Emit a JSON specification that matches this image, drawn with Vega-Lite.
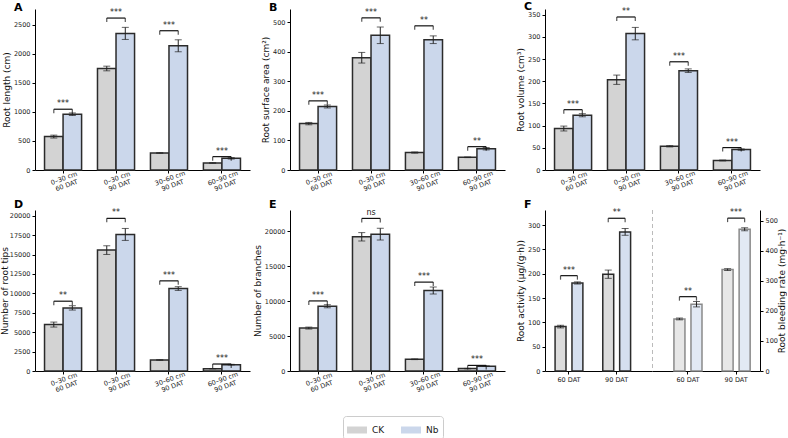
{
  "$schema": "https://vega.github.io/schema/vega-lite/v6.json",
  "background": "white",
  "padding": {"left": 0, "top": 0, "right": 0, "bottom": 0},
  "bounds": "flush",
  "columns": 3,
  "spacing": {"row": 40, "column": 40},
  "datasets": {
    "bars": [
      {"panel": "A", "cat": "0–30 cm|60 DAT", "group": "CK", "value": 575, "err": 25},
      {"panel": "A", "cat": "0–30 cm|60 DAT", "group": "Nb", "value": 960, "err": 22},
      {"panel": "A", "cat": "0–30 cm|90 DAT", "group": "CK", "value": 1747, "err": 40},
      {"panel": "A", "cat": "0–30 cm|90 DAT", "group": "Nb", "value": 2351, "err": 104},
      {"panel": "A", "cat": "30–60 cm|90 DAT", "group": "CK", "value": 293, "err": 5},
      {"panel": "A", "cat": "30–60 cm|90 DAT", "group": "Nb", "value": 2138, "err": 103},
      {"panel": "A", "cat": "60–90 cm|90 DAT", "group": "CK", "value": 121, "err": 5},
      {"panel": "A", "cat": "60–90 cm|90 DAT", "group": "Nb", "value": 201, "err": 12},
      {"panel": "B", "cat": "0–30 cm|60 DAT", "group": "CK", "value": 157, "err": 4},
      {"panel": "B", "cat": "0–30 cm|60 DAT", "group": "Nb", "value": 215, "err": 5},
      {"panel": "B", "cat": "0–30 cm|90 DAT", "group": "CK", "value": 380, "err": 18},
      {"panel": "B", "cat": "0–30 cm|90 DAT", "group": "Nb", "value": 456, "err": 28},
      {"panel": "B", "cat": "30–60 cm|90 DAT", "group": "CK", "value": 59, "err": 2},
      {"panel": "B", "cat": "30–60 cm|90 DAT", "group": "Nb", "value": 441, "err": 13},
      {"panel": "B", "cat": "60–90 cm|90 DAT", "group": "CK", "value": 43, "err": 1},
      {"panel": "B", "cat": "60–90 cm|90 DAT", "group": "Nb", "value": 72, "err": 4},
      {"panel": "C", "cat": "0–30 cm|60 DAT", "group": "CK", "value": 93.5, "err": 5.5},
      {"panel": "C", "cat": "0–30 cm|60 DAT", "group": "Nb", "value": 123.5, "err": 3.5},
      {"panel": "C", "cat": "0–30 cm|90 DAT", "group": "CK", "value": 203.5, "err": 10.5},
      {"panel": "C", "cat": "0–30 cm|90 DAT", "group": "Nb", "value": 307.5, "err": 14},
      {"panel": "C", "cat": "30–60 cm|90 DAT", "group": "CK", "value": 53.5, "err": 1.5},
      {"panel": "C", "cat": "30–60 cm|90 DAT", "group": "Nb", "value": 224, "err": 4},
      {"panel": "C", "cat": "60–90 cm|90 DAT", "group": "CK", "value": 21.5, "err": 1},
      {"panel": "C", "cat": "60–90 cm|90 DAT", "group": "Nb", "value": 46, "err": 1.5},
      {"panel": "D", "cat": "0–30 cm|60 DAT", "group": "CK", "value": 5980, "err": 320},
      {"panel": "D", "cat": "0–30 cm|60 DAT", "group": "Nb", "value": 8130, "err": 280},
      {"panel": "D", "cat": "0–30 cm|90 DAT", "group": "CK", "value": 15570, "err": 560},
      {"panel": "D", "cat": "0–30 cm|90 DAT", "group": "Nb", "value": 17590, "err": 770},
      {"panel": "D", "cat": "30–60 cm|90 DAT", "group": "CK", "value": 1420, "err": 30},
      {"panel": "D", "cat": "30–60 cm|90 DAT", "group": "Nb", "value": 10620, "err": 240},
      {"panel": "D", "cat": "60–90 cm|90 DAT", "group": "CK", "value": 300, "err": 20},
      {"panel": "D", "cat": "60–90 cm|90 DAT", "group": "Nb", "value": 820, "err": 40},
      {"panel": "E", "cat": "0–30 cm|60 DAT", "group": "CK", "value": 6140, "err": 140},
      {"panel": "E", "cat": "0–30 cm|60 DAT", "group": "Nb", "value": 9260, "err": 220},
      {"panel": "E", "cat": "0–30 cm|90 DAT", "group": "CK", "value": 19190, "err": 600},
      {"panel": "E", "cat": "0–30 cm|90 DAT", "group": "Nb", "value": 19570, "err": 840},
      {"panel": "E", "cat": "30–60 cm|90 DAT", "group": "CK", "value": 1680, "err": 50},
      {"panel": "E", "cat": "30–60 cm|90 DAT", "group": "Nb", "value": 11510, "err": 500},
      {"panel": "E", "cat": "60–90 cm|90 DAT", "group": "CK", "value": 340, "err": 30},
      {"panel": "E", "cat": "60–90 cm|90 DAT", "group": "Nb", "value": 690, "err": 40},
      {"panel": "F1", "cat": "60 DAT", "group": "CK", "value": 91.3, "err": 2.7},
      {"panel": "F1", "cat": "60 DAT", "group": "Nb", "value": 181, "err": 2.2},
      {"panel": "F1", "cat": "90 DAT", "group": "CK", "value": 199, "err": 8.5},
      {"panel": "F1", "cat": "90 DAT", "group": "Nb", "value": 286, "err": 7},
      {"panel": "F2", "cat": "60 DAT", "group": "CK", "value": 173, "err": 3},
      {"panel": "F2", "cat": "60 DAT", "group": "Nb", "value": 222, "err": 9},
      {"panel": "F2", "cat": "90 DAT", "group": "CK", "value": 337, "err": 3},
      {"panel": "F2", "cat": "90 DAT", "group": "Nb", "value": 471, "err": 5}
    ],
    "sig": [
      {"panel": "A", "cat": "0–30 cm|60 DAT", "group": "CK", "value": 1046, "label": "***"},
      {"panel": "A", "cat": "0–30 cm|60 DAT", "group": "Nb", "value": 1046, "label": "***"},
      {"panel": "A", "cat": "0–30 cm|90 DAT", "group": "CK", "value": 2615, "label": "***"},
      {"panel": "A", "cat": "0–30 cm|90 DAT", "group": "Nb", "value": 2615, "label": "***"},
      {"panel": "A", "cat": "30–60 cm|90 DAT", "group": "CK", "value": 2397, "label": "***"},
      {"panel": "A", "cat": "30–60 cm|90 DAT", "group": "Nb", "value": 2397, "label": "***"},
      {"panel": "A", "cat": "60–90 cm|90 DAT", "group": "CK", "value": 230, "label": "***"},
      {"panel": "A", "cat": "60–90 cm|90 DAT", "group": "Nb", "value": 230, "label": "***"},
      {"panel": "B", "cat": "0–30 cm|60 DAT", "group": "CK", "value": 234, "label": "***"},
      {"panel": "B", "cat": "0–30 cm|60 DAT", "group": "Nb", "value": 234, "label": "***"},
      {"panel": "B", "cat": "0–30 cm|90 DAT", "group": "CK", "value": 515, "label": "***"},
      {"panel": "B", "cat": "0–30 cm|90 DAT", "group": "Nb", "value": 515, "label": "***"},
      {"panel": "B", "cat": "30–60 cm|90 DAT", "group": "CK", "value": 488, "label": "**"},
      {"panel": "B", "cat": "30–60 cm|90 DAT", "group": "Nb", "value": 488, "label": "**"},
      {"panel": "B", "cat": "60–90 cm|90 DAT", "group": "CK", "value": 79, "label": "**"},
      {"panel": "B", "cat": "60–90 cm|90 DAT", "group": "Nb", "value": 79, "label": "**"},
      {"panel": "C", "cat": "0–30 cm|60 DAT", "group": "CK", "value": 136, "label": "***"},
      {"panel": "C", "cat": "0–30 cm|60 DAT", "group": "Nb", "value": 136, "label": "***"},
      {"panel": "C", "cat": "0–30 cm|90 DAT", "group": "CK", "value": 345, "label": "**"},
      {"panel": "C", "cat": "0–30 cm|90 DAT", "group": "Nb", "value": 345, "label": "**"},
      {"panel": "C", "cat": "30–60 cm|90 DAT", "group": "CK", "value": 244, "label": "***"},
      {"panel": "C", "cat": "30–60 cm|90 DAT", "group": "Nb", "value": 244, "label": "***"},
      {"panel": "C", "cat": "60–90 cm|90 DAT", "group": "CK", "value": 50.5, "label": "***"},
      {"panel": "C", "cat": "60–90 cm|90 DAT", "group": "Nb", "value": 50.5, "label": "***"},
      {"panel": "D", "cat": "0–30 cm|60 DAT", "group": "CK", "value": 8990, "label": "**"},
      {"panel": "D", "cat": "0–30 cm|60 DAT", "group": "Nb", "value": 8990, "label": "**"},
      {"panel": "D", "cat": "0–30 cm|90 DAT", "group": "CK", "value": 19660, "label": "**"},
      {"panel": "D", "cat": "0–30 cm|90 DAT", "group": "Nb", "value": 19660, "label": "**"},
      {"panel": "D", "cat": "30–60 cm|90 DAT", "group": "CK", "value": 11610, "label": "***"},
      {"panel": "D", "cat": "30–60 cm|90 DAT", "group": "Nb", "value": 11610, "label": "***"},
      {"panel": "D", "cat": "60–90 cm|90 DAT", "group": "CK", "value": 900, "label": "***"},
      {"panel": "D", "cat": "60–90 cm|90 DAT", "group": "Nb", "value": 900, "label": "***"},
      {"panel": "E", "cat": "0–30 cm|60 DAT", "group": "CK", "value": 10020, "label": "***"},
      {"panel": "E", "cat": "0–30 cm|60 DAT", "group": "Nb", "value": 10020, "label": "***"},
      {"panel": "E", "cat": "0–30 cm|90 DAT", "group": "CK", "value": 21820, "label": "ns"},
      {"panel": "E", "cat": "0–30 cm|90 DAT", "group": "Nb", "value": 21820, "label": "ns"},
      {"panel": "E", "cat": "30–60 cm|90 DAT", "group": "CK", "value": 12710, "label": "***"},
      {"panel": "E", "cat": "30–60 cm|90 DAT", "group": "Nb", "value": 12710, "label": "***"},
      {"panel": "E", "cat": "60–90 cm|90 DAT", "group": "CK", "value": 800, "label": "***"},
      {"panel": "E", "cat": "60–90 cm|90 DAT", "group": "Nb", "value": 800, "label": "***"},
      {"panel": "F1", "cat": "60 DAT", "group": "CK", "value": 196, "label": "***"},
      {"panel": "F1", "cat": "60 DAT", "group": "Nb", "value": 196, "label": "***"},
      {"panel": "F1", "cat": "90 DAT", "group": "CK", "value": 314, "label": "**"},
      {"panel": "F1", "cat": "90 DAT", "group": "Nb", "value": 314, "label": "**"},
      {"panel": "F2", "cat": "60 DAT", "group": "CK", "value": 247, "label": "**"},
      {"panel": "F2", "cat": "60 DAT", "group": "Nb", "value": 247, "label": "**"},
      {"panel": "F2", "cat": "90 DAT", "group": "CK", "value": 508, "label": "***"},
      {"panel": "F2", "cat": "90 DAT", "group": "Nb", "value": 508, "label": "***"}
    ]
  },
  "concat": [
    {
      "width": 215, "height": 161,
      "title": {"text": "A"},
      "encoding": {
        "x": {"field": "cat", "type": "nominal", "sort": null, "scale": {"paddingInner": 0.3, "paddingOuter": 0.18}, "axis": {"labelExpr": "split(datum.label, '|')"}},
        "y": {"field": "value", "type": "quantitative", "scale": {"domain": [0, 2771], "nice": false}, "axis": {"values": [0, 500, 1000, 1500, 2000, 2500], "title": "Root length (cm)"}}
      },
      "layer": [
        {"data": {"name": "bars"}, "transform": [{"filter": "datum.panel === 'A'"}],
         "mark": {"type": "bar", "stroke": "#2b2b2b", "strokeWidth": 1.5},
         "encoding": {"xOffset": {"field": "group", "type": "nominal"},
           "color": {"field": "group", "type": "nominal", "scale": {"domain": ["CK", "Nb"], "range": ["#d3d3d3", "#cbd7eb"]}, "legend": {"title": null, "orient": "none", "legendX": 308, "legendY": 407, "direction": "horizontal"}}}},
        {"data": {"name": "bars"}, "transform": [{"filter": "datum.panel === 'A'"}],
         "mark": {"type": "errorbar", "ticks": {"size": 7, "color": "#222"}, "color": "#222"},
         "encoding": {"xOffset": {"field": "group", "type": "nominal"}, "yError": {"field": "err"}}},
        {"data": {"name": "sig"}, "transform": [{"filter": "datum.panel === 'A'"}],
         "mark": {"type": "line", "color": "#111", "strokeWidth": 1.2},
         "encoding": {"xOffset": {"field": "group", "type": "nominal"}, "detail": {"field": "cat"}}},
        {"data": {"name": "sig"}, "transform": [{"filter": "datum.panel === 'A'"}],
         "mark": {"type": "tick", "orient": "vertical", "size": 4, "yOffset": 2, "thickness": 1.2, "color": "#111"},
         "encoding": {"xOffset": {"field": "group", "type": "nominal"}}},
        {"data": {"name": "sig"}, "transform": [{"filter": "datum.panel === 'A' && datum.group === 'CK'"}],
         "mark": {"type": "text", "baseline": "bottom", "dy": -1, "fontSize": 8, "color": "#222"},
         "encoding": {"text": {"field": "label"}}}
      ]
    },
    {
      "width": 215, "height": 161,
      "title": {"text": "B"},
      "encoding": {
        "x": {"field": "cat", "type": "nominal", "sort": null, "scale": {"paddingInner": 0.3, "paddingOuter": 0.18}, "axis": {"labelExpr": "split(datum.label, '|')"}},
        "y": {"field": "value", "type": "quantitative", "scale": {"domain": [0, 545], "nice": false}, "axis": {"values": [0, 100, 200, 300, 400, 500], "title": "Root surface area (cm²)"}}
      },
      "layer": [
        {"data": {"name": "bars"}, "transform": [{"filter": "datum.panel === 'B'"}],
         "mark": {"type": "bar", "stroke": "#2b2b2b", "strokeWidth": 1.5},
         "encoding": {"xOffset": {"field": "group", "type": "nominal"},
           "color": {"field": "group", "type": "nominal", "scale": {"domain": ["CK", "Nb"], "range": ["#d3d3d3", "#cbd7eb"]}, "legend": {"title": null, "orient": "none", "legendX": 308, "legendY": 407, "direction": "horizontal"}}}},
        {"data": {"name": "bars"}, "transform": [{"filter": "datum.panel === 'B'"}],
         "mark": {"type": "errorbar", "ticks": {"size": 7, "color": "#222"}, "color": "#222"},
         "encoding": {"xOffset": {"field": "group", "type": "nominal"}, "yError": {"field": "err"}}},
        {"data": {"name": "sig"}, "transform": [{"filter": "datum.panel === 'B'"}],
         "mark": {"type": "line", "color": "#111", "strokeWidth": 1.2},
         "encoding": {"xOffset": {"field": "group", "type": "nominal"}, "detail": {"field": "cat"}}},
        {"data": {"name": "sig"}, "transform": [{"filter": "datum.panel === 'B'"}],
         "mark": {"type": "tick", "orient": "vertical", "size": 4, "yOffset": 2, "thickness": 1.2, "color": "#111"},
         "encoding": {"xOffset": {"field": "group", "type": "nominal"}}},
        {"data": {"name": "sig"}, "transform": [{"filter": "datum.panel === 'B' && datum.group === 'CK'"}],
         "mark": {"type": "text", "baseline": "bottom", "dy": -1, "fontSize": 8, "color": "#222"},
         "encoding": {"text": {"field": "label"}}}
      ]
    },
    {
      "width": 215, "height": 161,
      "title": {"text": "C"},
      "encoding": {
        "x": {"field": "cat", "type": "nominal", "sort": null, "scale": {"paddingInner": 0.3, "paddingOuter": 0.18}, "axis": {"labelExpr": "split(datum.label, '|')"}},
        "y": {"field": "value", "type": "quantitative", "scale": {"domain": [0, 363], "nice": false}, "axis": {"values": [0, 50, 100, 150, 200, 250, 300, 350], "title": "Root volume (cm³)"}}
      },
      "layer": [
        {"data": {"name": "bars"}, "transform": [{"filter": "datum.panel === 'C'"}],
         "mark": {"type": "bar", "stroke": "#2b2b2b", "strokeWidth": 1.5},
         "encoding": {"xOffset": {"field": "group", "type": "nominal"},
           "color": {"field": "group", "type": "nominal", "scale": {"domain": ["CK", "Nb"], "range": ["#d3d3d3", "#cbd7eb"]}, "legend": {"title": null, "orient": "none", "legendX": 308, "legendY": 407, "direction": "horizontal"}}}},
        {"data": {"name": "bars"}, "transform": [{"filter": "datum.panel === 'C'"}],
         "mark": {"type": "errorbar", "ticks": {"size": 7, "color": "#222"}, "color": "#222"},
         "encoding": {"xOffset": {"field": "group", "type": "nominal"}, "yError": {"field": "err"}}},
        {"data": {"name": "sig"}, "transform": [{"filter": "datum.panel === 'C'"}],
         "mark": {"type": "line", "color": "#111", "strokeWidth": 1.2},
         "encoding": {"xOffset": {"field": "group", "type": "nominal"}, "detail": {"field": "cat"}}},
        {"data": {"name": "sig"}, "transform": [{"filter": "datum.panel === 'C'"}],
         "mark": {"type": "tick", "orient": "vertical", "size": 4, "yOffset": 2, "thickness": 1.2, "color": "#111"},
         "encoding": {"xOffset": {"field": "group", "type": "nominal"}}},
        {"data": {"name": "sig"}, "transform": [{"filter": "datum.panel === 'C' && datum.group === 'CK'"}],
         "mark": {"type": "text", "baseline": "bottom", "dy": -1, "fontSize": 8, "color": "#222"},
         "encoding": {"text": {"field": "label"}}}
      ]
    },
    {
      "width": 215, "height": 161,
      "title": {"text": "D", "offset": -1},
      "encoding": {
        "x": {"field": "cat", "type": "nominal", "sort": null, "scale": {"paddingInner": 0.3, "paddingOuter": 0.18}, "axis": {"labelExpr": "split(datum.label, '|')"}},
        "y": {"field": "value", "type": "quantitative", "scale": {"domain": [0, 20737], "nice": false}, "axis": {"values": [0, 2500, 5000, 7500, 10000, 12500, 15000, 17500, 20000], "title": "Number of root tips", "titlePadding": 0}}
      },
      "layer": [
        {"data": {"name": "bars"}, "transform": [{"filter": "datum.panel === 'D'"}],
         "mark": {"type": "bar", "stroke": "#2b2b2b", "strokeWidth": 1.5},
         "encoding": {"xOffset": {"field": "group", "type": "nominal"},
           "color": {"field": "group", "type": "nominal", "scale": {"domain": ["CK", "Nb"], "range": ["#d3d3d3", "#cbd7eb"]}, "legend": {"title": null, "orient": "none", "legendX": 308, "legendY": 407, "direction": "horizontal"}}}},
        {"data": {"name": "bars"}, "transform": [{"filter": "datum.panel === 'D'"}],
         "mark": {"type": "errorbar", "ticks": {"size": 7, "color": "#222"}, "color": "#222"},
         "encoding": {"xOffset": {"field": "group", "type": "nominal"}, "yError": {"field": "err"}}},
        {"data": {"name": "sig"}, "transform": [{"filter": "datum.panel === 'D'"}],
         "mark": {"type": "line", "color": "#111", "strokeWidth": 1.2},
         "encoding": {"xOffset": {"field": "group", "type": "nominal"}, "detail": {"field": "cat"}}},
        {"data": {"name": "sig"}, "transform": [{"filter": "datum.panel === 'D'"}],
         "mark": {"type": "tick", "orient": "vertical", "size": 4, "yOffset": 2, "thickness": 1.2, "color": "#111"},
         "encoding": {"xOffset": {"field": "group", "type": "nominal"}}},
        {"data": {"name": "sig"}, "transform": [{"filter": "datum.panel === 'D' && datum.group === 'CK'"}],
         "mark": {"type": "text", "baseline": "bottom", "dy": -1, "fontSize": 8, "color": "#222"},
         "encoding": {"text": {"field": "label"}}}
      ]
    },
    {
      "width": 215, "height": 161,
      "title": {"text": "E", "offset": -1},
      "encoding": {
        "x": {"field": "cat", "type": "nominal", "sort": null, "scale": {"paddingInner": 0.3, "paddingOuter": 0.18}, "axis": {"labelExpr": "split(datum.label, '|')"}},
        "y": {"field": "value", "type": "quantitative", "scale": {"domain": [0, 23022], "nice": false}, "axis": {"values": [0, 5000, 10000, 15000, 20000], "title": "Number of branches"}}
      },
      "layer": [
        {"data": {"name": "bars"}, "transform": [{"filter": "datum.panel === 'E'"}],
         "mark": {"type": "bar", "stroke": "#2b2b2b", "strokeWidth": 1.5},
         "encoding": {"xOffset": {"field": "group", "type": "nominal"},
           "color": {"field": "group", "type": "nominal", "scale": {"domain": ["CK", "Nb"], "range": ["#d3d3d3", "#cbd7eb"]}, "legend": {"title": null, "orient": "none", "legendX": 308, "legendY": 407, "direction": "horizontal"}}}},
        {"data": {"name": "bars"}, "transform": [{"filter": "datum.panel === 'E'"}],
         "mark": {"type": "errorbar", "ticks": {"size": 7, "color": "#222"}, "color": "#222"},
         "encoding": {"xOffset": {"field": "group", "type": "nominal"}, "yError": {"field": "err"}}},
        {"data": {"name": "sig"}, "transform": [{"filter": "datum.panel === 'E'"}],
         "mark": {"type": "line", "color": "#111", "strokeWidth": 1.2},
         "encoding": {"xOffset": {"field": "group", "type": "nominal"}, "detail": {"field": "cat"}}},
        {"data": {"name": "sig"}, "transform": [{"filter": "datum.panel === 'E'"}],
         "mark": {"type": "tick", "orient": "vertical", "size": 4, "yOffset": 2, "thickness": 1.2, "color": "#111"},
         "encoding": {"xOffset": {"field": "group", "type": "nominal"}}},
        {"data": {"name": "sig"}, "transform": [{"filter": "datum.panel === 'E' && datum.group === 'CK'"}],
         "mark": {"type": "text", "baseline": "bottom", "dy": -1, "fontSize": 8, "color": "#222"},
         "encoding": {"text": {"field": "label"}}}
      ]
    },
    {
      "width": 215, "height": 161,
      "title": {"text": "F", "offset": -1},
      "layer": [
        {
          "encoding": {
            "x": {"field": "cat", "type": "nominal", "sort": null, "scale": {"domain": ["60 DAT", "90 DAT"], "range": [0, 107], "paddingInner": 0.417, "paddingOuter": 0.33, "align": 0.32}, "axis": {"orient": "bottom", "labelAngle": 0, "labelAlign": "center", "labelBaseline": "top"}},
            "y": {"field": "value", "type": "quantitative", "scale": {"domain": [0, 331], "nice": false}, "axis": {"values": [0, 50, 100, 150, 200, 250, 300], "title": "Root activity (μg/(g·h))"}}
          },
          "layer": [
            {"data": {"name": "bars"}, "transform": [{"filter": "datum.panel === 'F1'"}],
             "mark": {"type": "bar", "stroke": "#2b2b2b", "strokeWidth": 1.5, "fillOpacity": 0.8},
             "encoding": {"xOffset": {"field": "group", "type": "nominal", "scale": {"paddingInner": 0.353}},
               "color": {"field": "group", "type": "nominal", "scale": {"domain": ["CK", "Nb"], "range": ["#d3d3d3", "#cbd7eb"]}, "legend": {"title": null, "orient": "none", "legendX": 308, "legendY": 407, "direction": "horizontal"}}}},
            {"data": {"name": "bars"}, "transform": [{"filter": "datum.panel === 'F1'"}],
             "mark": {"type": "errorbar", "ticks": {"size": 7, "color": "#222"}, "color": "#222"},
             "encoding": {"xOffset": {"field": "group", "type": "nominal"}, "yError": {"field": "err"}}},
            {"data": {"name": "sig"}, "transform": [{"filter": "datum.panel === 'F1'"}],
             "mark": {"type": "line", "color": "#111", "strokeWidth": 1.2},
             "encoding": {"xOffset": {"field": "group", "type": "nominal"}, "detail": {"field": "cat"}}},
            {"data": {"name": "sig"}, "transform": [{"filter": "datum.panel === 'F1'"}],
             "mark": {"type": "tick", "orient": "vertical", "size": 4, "yOffset": 2, "thickness": 1.2, "color": "#111"},
             "encoding": {"xOffset": {"field": "group", "type": "nominal"}}},
            {"data": {"name": "sig"}, "transform": [{"filter": "datum.panel === 'F1' && datum.group === 'CK'"}],
             "mark": {"type": "text", "baseline": "bottom", "dy": -1, "fontSize": 8, "color": "#222"},
             "encoding": {"text": {"field": "label"}}}
          ]
        },
        {
          "encoding": {
            "x": {"field": "cat", "type": "nominal", "sort": null, "scale": {"domain": ["60 DAT", "90 DAT"], "range": [107, 215], "paddingInner": 0.417, "paddingOuter": 0.33, "align": 0.69}, "axis": {"orient": "bottom", "labelAngle": 0, "labelAlign": "center", "labelBaseline": "top"}},
            "y": {"field": "value", "type": "quantitative", "scale": {"domain": [0, 535], "nice": false}, "axis": {"orient": "right", "values": [0, 100, 200, 300, 400, 500], "title": "Root bleeding rate (mg·h⁻¹)", "titleAngle": 270, "titleBaseline": "top", "titlePadding": 0}}
          },
          "layer": [
            {"data": {"name": "bars"}, "transform": [{"filter": "datum.panel === 'F2'"}],
             "mark": {"type": "bar", "stroke": "#8a8a8a", "strokeWidth": 1.5, "fillOpacity": 0.55},
             "encoding": {"xOffset": {"field": "group", "type": "nominal", "scale": {"paddingInner": 0.353}},
               "color": {"field": "group", "type": "nominal", "scale": {"domain": ["CK", "Nb"], "range": ["#d3d3d3", "#cbd7eb"]}, "legend": {"title": null, "orient": "none", "legendX": 308, "legendY": 407, "direction": "horizontal"}}}},
            {"data": {"name": "bars"}, "transform": [{"filter": "datum.panel === 'F2'"}],
             "mark": {"type": "errorbar", "ticks": {"size": 7, "color": "#222"}, "color": "#222"},
             "encoding": {"xOffset": {"field": "group", "type": "nominal"}, "yError": {"field": "err"}}},
            {"data": {"name": "sig"}, "transform": [{"filter": "datum.panel === 'F2'"}],
             "mark": {"type": "line", "color": "#111", "strokeWidth": 1.2},
             "encoding": {"xOffset": {"field": "group", "type": "nominal"}, "detail": {"field": "cat"}}},
            {"data": {"name": "sig"}, "transform": [{"filter": "datum.panel === 'F2'"}],
             "mark": {"type": "tick", "orient": "vertical", "size": 4, "yOffset": 2, "thickness": 1.2, "color": "#111"},
             "encoding": {"xOffset": {"field": "group", "type": "nominal"}}},
            {"data": {"name": "sig"}, "transform": [{"filter": "datum.panel === 'F2' && datum.group === 'CK'"}],
             "mark": {"type": "text", "baseline": "bottom", "dy": -1, "fontSize": 8, "color": "#222"},
             "encoding": {"text": {"field": "label"}}}
          ]
        },
        {
          "data": {"values": [{"part": "separator"}]},
          "mark": {"type": "rule", "color": "#bbbbbb", "strokeDash": [4, 3], "strokeWidth": 1},
          "encoding": {"x": {"datum": 0.5, "type": "quantitative", "scale": {"domain": [0, 1]}, "axis": null}}
        }
      ],
      "resolve": {"scale": {"x": "independent", "y": "independent", "xOffset": "independent"}, "axis": {"x": "independent", "y": "independent"}}
    }
  ],
  "config": {
    "font": "DejaVu Sans",
    "numberFormat": "d",
    "view": {"stroke": null},
    "axis": {"grid": false, "domainColor": "#000", "domainWidth": 1, "tickColor": "#000", "tickSize": 3, "labelFontSize": 6.5, "labelColor": "#222", "titleFontSize": 9, "titleFontWeight": "normal", "titleColor": "#111", "labelPadding": 2, "titlePadding": 2},
    "axisX": {"title": null, "labelAngle": -20, "labelAlign": "center", "labelBaseline": "top", "labelLineHeight": 7.5},
    "title": {"fontSize": 11, "fontWeight": "bold", "anchor": "start", "frame": "group", "dx": -21, "offset": -4, "baseline": "alphabetic", "color": "#000"},
    "legend": {"symbolType": "M-1,-0.35H1V0.35H-1Z", "symbolSize": 400, "symbolStrokeWidth": 0, "symbolOpacity": 1, "labelFontSize": 9, "labelColor": "#222", "strokeColor": "#cccccc", "padding": 4, "cornerRadius": 3, "columnPadding": 16, "labelOffset": 5}
  }
}
